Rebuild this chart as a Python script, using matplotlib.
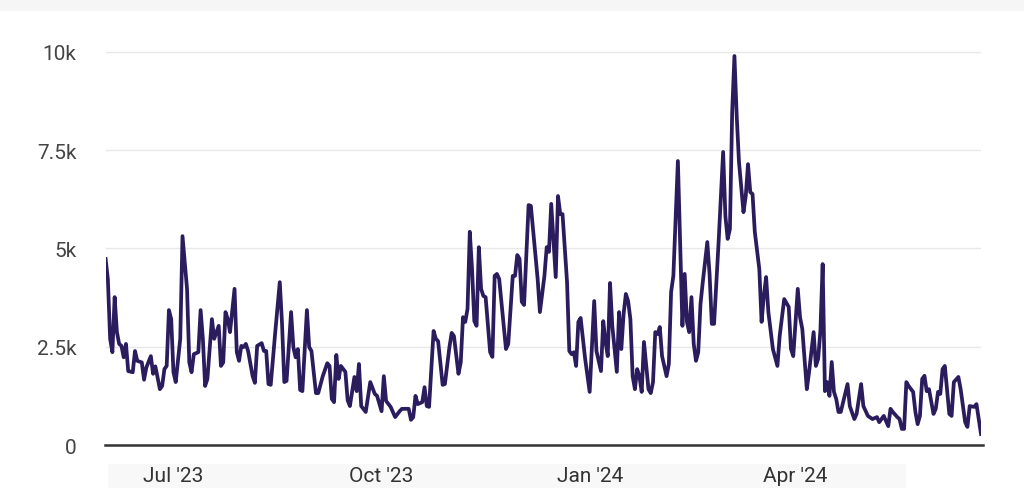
import matplotlib.pyplot as plt
import matplotlib.dates as mdates
from matplotlib.ticker import FixedLocator, FuncFormatter
from matplotlib.patches import Rectangle
import pandas as pd

start = pd.Timestamp("2023-06-01")

# day number since start, and the value on that day
days = [0, 1, 2, 3, 4, 5, 6, 7, 8, 9, 10, 12, 13, 14, 16, 17, 18, 20, 21, 22,
        24, 25, 26, 27, 28, 29, 30, 31, 33, 34, 36, 37, 38, 39, 41, 42, 43, 44, 45, 47,
        48, 50, 51, 52, 53, 54, 55, 57, 58, 59, 60, 61, 62, 63, 65, 66, 67, 69, 70, 71,
        72, 73, 75, 77, 78, 79, 80, 82, 83, 84, 85, 86, 87, 89, 90, 91, 93, 94, 96, 98,
        99, 100, 101, 102, 103, 104, 106, 107, 108, 110, 111, 112, 113, 115, 117, 119, 120, 122, 123, 124,
        126, 128, 130, 131, 134, 135, 136, 137, 138, 140, 141, 142, 143, 145, 146, 147, 149, 150, 152, 153,
        154, 156, 157, 158, 159, 160, 161, 162, 163, 164, 165, 166, 167, 168, 170, 171, 172, 173, 174, 177,
        178, 180, 181, 182, 183, 184, 185, 187, 188, 191, 192, 194, 195, 196, 197, 199, 200, 201, 202, 204,
        205, 206, 207, 208, 209, 210, 212, 214, 216, 217, 219, 220, 221, 222, 223, 224, 226, 227, 228, 229,
        230, 231, 232, 233, 234, 235, 236, 237, 238, 239, 240, 241, 242, 243, 244, 245, 246, 248, 249, 250,
        251, 253, 255, 256, 257, 258, 259, 260, 261, 262, 263, 264, 266, 267, 268, 269, 271, 273, 274, 275,
        276, 277, 278, 279, 280, 282, 283, 284, 285, 286, 287, 289, 290, 291, 292, 293, 295, 297, 298, 300,
        302, 303, 304, 306, 307, 308, 310, 311, 313, 314, 315, 316, 317, 318, 319, 320, 321, 322, 323, 324,
        325, 328, 329, 331, 332, 334, 335, 337, 339, 341, 342, 344, 346, 347, 348, 350, 351, 352, 353, 354,
        355, 357, 358, 359, 360, 361, 362, 363, 364, 366, 367, 368, 369, 370, 371, 373, 374, 375, 377, 378,
        380, 381, 382, 384, 385, 386, 387]
values = [4730, 4220, 2700, 2360, 3760, 2870, 2570, 2520, 2230, 2570, 1880, 1850, 2390, 2140, 2100, 1660, 1970, 2260, 1810, 2000,
          1420, 1500, 1930, 2010, 3430, 3200, 1850, 1600, 2700, 5310, 3970, 2100, 1850, 2310, 2360, 3430, 2700, 1500, 1680, 3200,
          2700, 3030, 2010, 2100, 3380, 3200, 2870, 3970, 2360, 2140, 2520, 2490, 2570, 2390, 1750, 1580, 2520, 2590, 2390, 2390,
          1550, 1530, 2870, 4140, 3080, 1600, 1630, 3380, 2490, 2230, 2440, 1400, 1370, 3430, 2490, 2390, 1320, 1320, 1750, 2080,
          2010, 1170, 1090, 2290, 1680, 2010, 1860, 1140, 990, 1730, 1370, 2060, 990, 840, 1600, 1300, 1250, 860, 1750, 1120,
          970, 710, 860, 920, 920, 640, 710, 1250, 1040, 1090, 1470, 990, 970, 2900, 2700, 2640, 1530, 1550, 2490, 2850,
          2770, 1810, 2100, 3250, 3130, 3460, 5420, 4470, 3150, 3030, 5030, 3970, 3790, 3760, 2360, 2240, 4300, 4350, 4220, 2440,
          2570, 4300, 4300, 4830, 4730, 3640, 3560, 6100, 6080, 4220, 3380, 4300, 5030, 4910, 6130, 4270, 6330, 5870, 5870, 4140,
          2390, 2310, 2360, 2010, 3130, 3230, 2190, 1350, 3660, 2390, 1880, 3150, 2620, 2260, 4120, 3030, 1860, 3380, 2440, 3330,
          3840, 3660, 3200, 1750, 1420, 1930, 1750, 1350, 2620, 2010, 1420, 1320, 1600, 2870, 2820, 3000, 2260, 1750, 2060, 3890,
          4300, 7220, 3030, 4350, 3130, 2870, 3760, 2570, 2140, 2360, 3590, 4140, 5160, 4350, 3080, 3080, 5160, 7450, 5820, 5240,
          5490, 8470, 9890, 8370, 7200, 5920, 6330, 7140, 6430, 6380, 5420, 4470, 3130, 3790, 4270, 3380, 2440, 2010, 2770, 3710,
          3510, 2440, 2260, 3970, 3250, 2950, 1420, 1860, 2870, 2010, 2190, 2900, 4600, 1370, 1600, 1250, 2110, 1350, 1170, 840,
          840, 1550, 990, 660, 790, 1550, 990, 740, 660, 710, 580, 740, 480, 920, 840, 710, 660, 410, 410, 1600,
          1500, 1350, 840, 530, 740, 1680, 1760, 1370, 1420, 790, 920, 1350, 1300, 1930, 2010, 790, 740, 1600, 1730, 1420,
          580, 460, 990, 970, 1040, 660, 280]

ytick_vals = [0, 2500, 5000, 7500, 10000]
ytick_labels = ["0", "2.5k", "5k", "7.5k", "10k"]

dates = [start + pd.Timedelta(days=d) for d in days]

plt.rcParams['font.family'] = ['Roboto', 'DejaVu Sans']

fig = plt.figure(figsize=(10.24, 4.89), dpi=100)
# faint grey bands of the original screenshot
fig.patches.append(Rectangle((0, 0.976), 1, 0.024, transform=fig.transFigure,
                             facecolor='#f6f6f6', edgecolor='none', zorder=-5))
fig.patches.append(Rectangle((0.105, 0), 0.78, 0.05, transform=fig.transFigure,
                             facecolor='#f8f8f8', edgecolor='none', zorder=-5))

ax = fig.add_axes([105.6 / 1024, 0.0879, (981 - 105.6) / 1024, 0.8446])
ax.patch.set_alpha(0)
ax.plot(dates, values, color='#2b1c5e', linewidth=2.7, solid_joinstyle='round', zorder=3)

ax.set_ylim(0, 10500)
ax.set_xlim(dates[0], dates[-1])
ax.yaxis.set_major_locator(FixedLocator(ytick_vals))
ax.yaxis.set_major_formatter(FuncFormatter(lambda v, p: ytick_labels[ytick_vals.index(int(v))] if int(v) in ytick_vals else ""))
ax.grid(axis='y', color='#e8e8e8', linewidth=1)
ax.set_axisbelow(True)

ax.xaxis.set_major_locator(mdates.MonthLocator(bymonth=[1, 4, 7, 10]))
ax.xaxis.set_major_formatter(mdates.DateFormatter("%b '%y"))

for s in ['top', 'right', 'left']:
    ax.spines[s].set_visible(False)
ax.spines['bottom'].set_color('#333333')
ax.spines['bottom'].set_linewidth(1.8)
ax.spines['bottom'].set_bounds(mdates.date2num(dates[0]) - 0.3, mdates.date2num(dates[-1]) + 0.9)
ax.spines['bottom'].set_clip_on(False)

ax.tick_params(axis='y', length=0, pad=21, labelsize=15, labelcolor='#444444')
ax.tick_params(axis='x', length=0, pad=15, labelsize=15, labelcolor='#333333')

fig.savefig("out.png", dpi=100)
